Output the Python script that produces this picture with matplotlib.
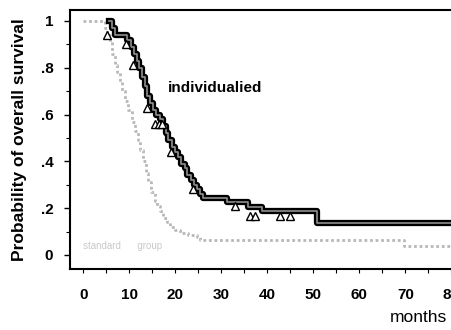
import numpy as np
import matplotlib.pyplot as plt

# individualized arm (step curve)
ind_months = [5.6, 6.2, 6.9, 9.6, 10.4, 11.0, 11.6, 12.2, 12.8, 13.3, 13.9, 14.5,
              15.2, 15.9, 16.6, 17.3, 17.9, 18.5, 19.2, 19.9, 20.6, 21.3, 22.0,
              22.6, 23.3, 24.0, 24.7, 25.4, 26.0, 31.3, 35.8, 38.8, 50.8, 80.2]
ind_surv = [1.0, 0.97, 0.94, 0.92, 0.89, 0.86, 0.83, 0.80, 0.76, 0.72, 0.68, 0.65,
            0.62, 0.60, 0.58, 0.55, 0.52, 0.49, 0.46, 0.44, 0.42, 0.39, 0.37,
            0.34, 0.32, 0.30, 0.28, 0.26, 0.245, 0.228, 0.207, 0.186, 0.138, 0.138]

# censored observations (individualized)
cens_months = [5.1, 9.3, 10.9, 13.8, 15.6, 16.4, 17.2, 19.0, 23.9, 33.0, 36.2, 37.3, 42.8, 45.0]
cens_surv = [0.96, 0.92, 0.83, 0.65, 0.58, 0.58, 0.58, 0.46, 0.30, 0.228, 0.186, 0.186, 0.186, 0.186]

# comparison arm
std_months = [0, 4.7, 5.2, 5.8, 6.3, 6.9, 7.4, 8.0, 8.5, 9.1, 9.8, 10.5, 11.2, 11.8,
              12.3, 13.0, 13.6, 14.1, 14.8, 15.5, 16.1, 16.7, 17.4, 18.1, 18.8,
              19.9, 21.0, 22.8, 24.7, 25.4, 69.8, 80.2]
std_surv = [1.0, 0.97, 0.94, 0.91, 0.86, 0.81, 0.78, 0.74, 0.70, 0.66, 0.62, 0.57, 0.53, 0.49,
            0.45, 0.40, 0.35, 0.31, 0.27, 0.23, 0.21, 0.19, 0.16, 0.14, 0.12,
            0.105, 0.093, 0.085, 0.078, 0.062, 0.038, 0.038]

xticks = [0, 10, 20, 30, 40, 50, 60, 70, 80]
yticks = [0, 0.2, 0.4, 0.6, 0.8, 1.0]
ylabels = ['0', '.2', '.4', '.6', '.8', '1']

plt.rcParams['font.family'] = ['Liberation Sans', 'DejaVu Sans']

fig = plt.figure(figsize=(4.52, 3.30), dpi=100)
ax = fig.add_axes([70/452, 61/330, 382/452, (320.5-61)/330])

ax.step(std_months, std_surv, where='post', color='#b8b8b8', lw=2, ls=(0, (1, 1)))
ax.step(ind_months, ind_surv, where='post', color='black', lw=4.5)
ax.step(ind_months, ind_surv, where='post', color='#909090', lw=1.2)
ax.plot(cens_months, np.array(cens_surv) - 0.02, ls='none', marker='^', ms=6,
        mfc='white', mec='black', mew=1)

ax.text(18.4, 0.715, 'individualied', fontsize=11, fontweight='bold', va='center')
ax.text(0, 0.04, 'standard      group', fontsize=7, color='#c8c8c8', va='center')

ax.set_xlim(-2.9, 80.15)
ax.set_ylim(-0.06, 1.049)
ax.set_xticks(xticks)
ax.set_xticks([5, 15, 25, 35, 45, 55, 65, 75], minor=True)
ax.set_yticks(yticks)
ax.set_yticks([0.1, 0.3, 0.5, 0.7, 0.9], minor=True)
ax.set_yticklabels(ylabels, fontsize=11, fontweight='bold')
ax.set_xticklabels([str(t) for t in xticks], fontsize=11, fontweight='bold')
ax.tick_params(axis='y', direction='out', length=4, width=1, pad=8)
ax.tick_params(axis='y', which='minor', direction='out', length=3, width=0.8)
ax.tick_params(axis='x', which='both', direction='out', length=3, width=0.8, pad=11)

ax.spines['right'].set_visible(False)
for s in ['top', 'left', 'bottom']:
    ax.spines[s].set_linewidth(1.5)

ax.set_ylabel('Probability of overall survival', fontsize=12.5, fontweight='bold', labelpad=10)
fig.text(447/452, 1 - 318/330, 'months', fontsize=12.5, ha='right', va='center')

fig.savefig('out.png', dpi=100)
